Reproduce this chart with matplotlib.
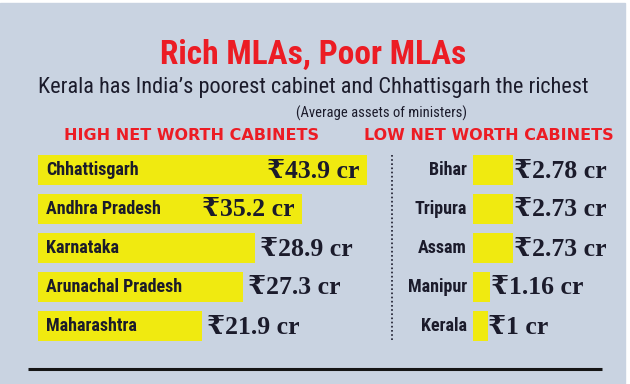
import matplotlib
matplotlib.use('Agg')
import matplotlib.pyplot as plt
from matplotlib import font_manager

# data
high_states = ['Chhattisgarh', 'Andhra Pradesh', 'Karnataka', 'Arunachal Pradesh', 'Maharashtra']
high_assets = [43.9, 35.2, 28.9, 27.3, 21.9]
high_labels = ['₹43.9 cr', '₹35.2 cr', '₹28.9 cr', '₹27.3 cr', '₹21.9 cr']

low_states = ['Bihar', 'Tripura', 'Assam', 'Manipur', 'Kerala']
low_assets = [2.78, 2.73, 2.73, 1.16, 1.0]
low_labels = ['₹2.78 cr', '₹2.73 cr', '₹2.73 cr', '₹1.16 cr', '₹1 cr']

BG = '#c9d3e1'
YELLOW = '#f0ea10'
RED = '#ec1c24'
INK = '#1b1b2b'

W, H = 630, 384

installed = set(f.name for f in font_manager.fontManager.ttflist)
narrow_candidates = ['Roboto Condensed', 'Open Sans Condensed', 'Liberation Sans Narrow',
                     'Fira Sans Condensed', 'Barlow Condensed', 'Asap Condensed',
                     'PT Sans Narrow', 'Archivo Narrow', 'Encode Sans Condensed',
                     'IBM Plex Sans Condensed', 'Noto Sans Display', 'DejaVu Sans']
NARROW = next(n for n in narrow_candidates if n in installed)
SERIF = [n for n in ['Liberation Serif', 'DejaVu Serif', 'DejaVu Sans'] if n in installed]


def frac(x0, y0, w, h):
    # pixel box (top-left origin) -> figure fraction
    return [x0 / W, 1 - (y0 + h) / H, w / W, h / H]


fig = plt.figure(figsize=(W / 100, H / 100), dpi=100, facecolor='white')
bg = fig.add_axes([0, 0, 1, 1])
bg.set_xlim(0, W)
bg.set_ylim(H, 0)
bg.axis('off')
bg.add_patch(plt.Rectangle((0, 3), 625, H - 3, color=BG, zorder=0))

# titles
bg.text(313, 55, 'Rich MLAs, Poor MLAs', ha='center', va='center', color=RED,
        fontsize=24, fontweight='bold', family=NARROW, fontstretch='condensed')
bg.text(313, 88, 'Kerala has India’s poorest cabinet and Chhattisgarh the richest',
        ha='center', va='center', color=INK, fontsize=16, family=NARROW,
        fontstretch='condensed')
bg.text(382, 113, '(Average assets of ministers)', ha='center', va='center', color=INK,
        fontsize=10.5, family=NARROW, fontstretch='condensed')
bg.text(191, 136, 'HIGH NET WORTH CABINETS', ha='center', va='center', color=RED,
        fontsize=11.5, fontweight='bold', family='DejaVu Sans')
bg.text(489, 136, 'LOW NET WORTH CABINETS', ha='center', va='center', color=RED,
        fontsize=11.5, fontweight='bold', family='DejaVu Sans')

# dotted divider and bottom rule
bg.plot([392, 392], [155, 341], color=INK, lw=1.2, ls=(0, (1, 1.5)))
bg.plot([28, 602], [369, 369], color='#151515', lw=2.2, solid_capstyle='butt')

row_h = 39
top = 170 - row_h / 2
n = len(high_states)


def panel(x0, scale, width):
    ax = fig.add_axes(frac(x0, top, width, row_h * n))
    ax.set_xlim(0, width / scale)
    ax.set_ylim(n - 0.5, -0.5)
    ax.axis('off')
    ax.patch.set_alpha(0)
    return ax


# left panel
axl = panel(38, 7.5, 340)
axl.barh(range(n), high_assets, height=0.79, color=YELLOW, left=0)
for i, (s, v, lab) in enumerate(zip(high_states, high_assets, high_labels)):
    axl.annotate(s, (0, i), xytext=(8, 0), textcoords='offset pixels', ha='left', va='center',
                 fontsize=13, fontweight='bold', color=INK, family=NARROW,
                 fontstretch='condensed')
    if v > 30:
        axl.annotate(lab, (v, i), xytext=(-8, -1), textcoords='offset pixels', ha='right',
                     va='center', fontsize=18.5, fontweight='bold', color=INK, family=SERIF)
    else:
        axl.annotate(lab, (v, i), xytext=(5, -1), textcoords='offset pixels', ha='left',
                     va='center', fontsize=18.5, fontweight='bold', color=INK, family=SERIF)

# right panel
axr = panel(473, 14.5, 150)
axr.barh(range(n), low_assets, height=0.79, color=YELLOW, left=0)
for i, (s, v, lab) in enumerate(zip(low_states, low_assets, low_labels)):
    axr.annotate(s, (0, i), xytext=(-6, 0), textcoords='offset pixels', ha='right', va='center',
                 fontsize=13, fontweight='bold', color=INK, family=NARROW,
                 fontstretch='condensed')
    axr.annotate(lab, (v, i), xytext=(1, -1), textcoords='offset pixels', ha='left',
                 va='center', fontsize=18.5, fontweight='bold', color=INK, family=SERIF)

fig.savefig('out.png', dpi=100, facecolor='white')
